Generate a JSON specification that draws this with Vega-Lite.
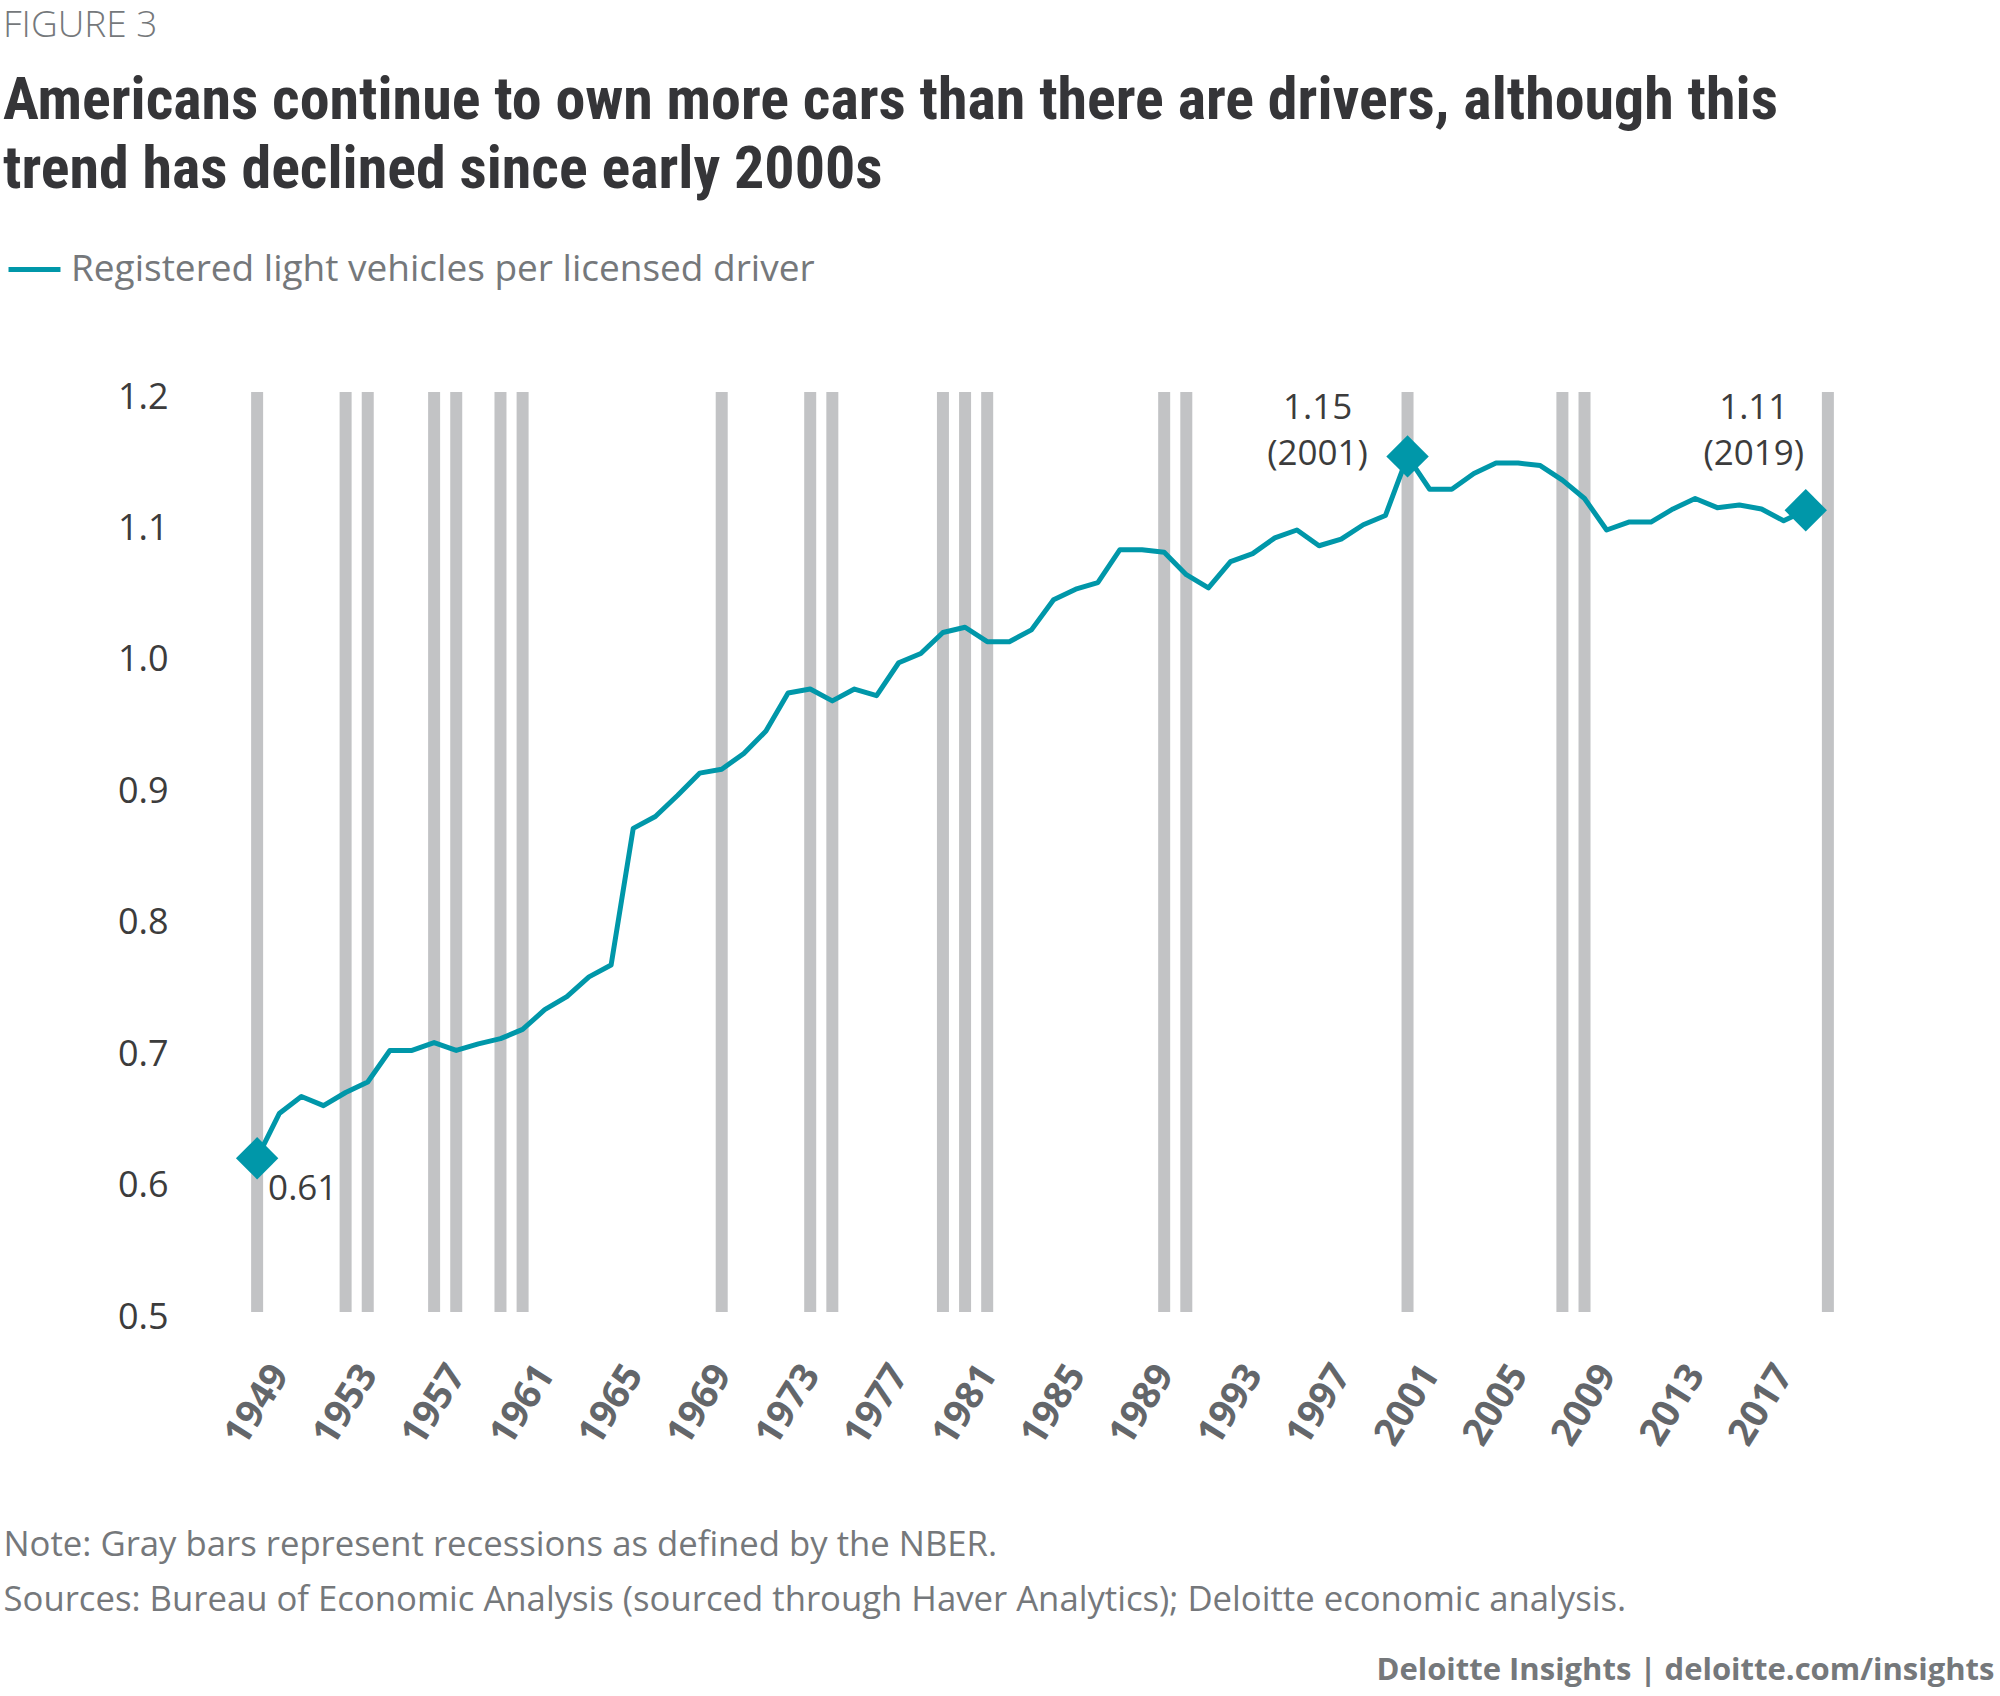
{
  "$schema": "https://vega.github.io/schema/vega-lite/v6.json",
  "width": 1615,
  "height": 920,
  "autosize": {"type": "none"},
  "padding": {"left": 235, "top": 392, "right": 150, "bottom": 384},
  "background": "white",
  "title": {
    "text": "FIGURE 3",
    "subtitle": ["Americans continue to own more cars than there are drivers, although this", "trend has declined since early 2000s"],
    "anchor": "start",
    "frame": "group",
    "dx": -232,
    "offset": 40,
    "font": "Open Sans",
    "fontSize": 37,
    "fontWeight": 300,
    "color": "#75787b",
    "subtitleFont": "'Roboto Condensed', 'Liberation Sans Narrow', 'DejaVu Sans Condensed', 'Open Sans', sans-serif",
    "subtitleFontSize": 60,
    "subtitleFontWeight": "bold",
    "subtitleColor": "#353538",
    "subtitleLineHeight": 69,
    "subtitlePadding": 27
  },
  "datasets": {
    "recessions": [
      {"year": 1949}, {"year": 1953}, {"year": 1954}, {"year": 1957}, {"year": 1958},
      {"year": 1960}, {"year": 1961}, {"year": 1970}, {"year": 1974}, {"year": 1975},
      {"year": 1980}, {"year": 1981}, {"year": 1982}, {"year": 1990}, {"year": 1991},
      {"year": 2001}, {"year": 2008}, {"year": 2009}, {"year": 2020}
    ],
    "series": [
      {"year": 1949, "value": 0.617, "series": "Registered light vehicles per licensed driver"},
      {"year": 1950, "value": 0.651, "series": "Registered light vehicles per licensed driver"},
      {"year": 1951, "value": 0.664, "series": "Registered light vehicles per licensed driver"},
      {"year": 1952, "value": 0.657, "series": "Registered light vehicles per licensed driver"},
      {"year": 1953, "value": 0.667, "series": "Registered light vehicles per licensed driver"},
      {"year": 1954, "value": 0.675, "series": "Registered light vehicles per licensed driver"},
      {"year": 1955, "value": 0.699, "series": "Registered light vehicles per licensed driver"},
      {"year": 1956, "value": 0.699, "series": "Registered light vehicles per licensed driver"},
      {"year": 1957, "value": 0.705, "series": "Registered light vehicles per licensed driver"},
      {"year": 1958, "value": 0.699, "series": "Registered light vehicles per licensed driver"},
      {"year": 1959, "value": 0.704, "series": "Registered light vehicles per licensed driver"},
      {"year": 1960, "value": 0.708, "series": "Registered light vehicles per licensed driver"},
      {"year": 1961, "value": 0.715, "series": "Registered light vehicles per licensed driver"},
      {"year": 1962, "value": 0.730, "series": "Registered light vehicles per licensed driver"},
      {"year": 1963, "value": 0.740, "series": "Registered light vehicles per licensed driver"},
      {"year": 1964, "value": 0.755, "series": "Registered light vehicles per licensed driver"},
      {"year": 1965, "value": 0.764, "series": "Registered light vehicles per licensed driver"},
      {"year": 1966, "value": 0.868, "series": "Registered light vehicles per licensed driver"},
      {"year": 1967, "value": 0.877, "series": "Registered light vehicles per licensed driver"},
      {"year": 1968, "value": 0.893, "series": "Registered light vehicles per licensed driver"},
      {"year": 1969, "value": 0.910, "series": "Registered light vehicles per licensed driver"},
      {"year": 1970, "value": 0.913, "series": "Registered light vehicles per licensed driver"},
      {"year": 1971, "value": 0.925, "series": "Registered light vehicles per licensed driver"},
      {"year": 1972, "value": 0.942, "series": "Registered light vehicles per licensed driver"},
      {"year": 1973, "value": 0.971, "series": "Registered light vehicles per licensed driver"},
      {"year": 1974, "value": 0.974, "series": "Registered light vehicles per licensed driver"},
      {"year": 1975, "value": 0.965, "series": "Registered light vehicles per licensed driver"},
      {"year": 1976, "value": 0.974, "series": "Registered light vehicles per licensed driver"},
      {"year": 1977, "value": 0.969, "series": "Registered light vehicles per licensed driver"},
      {"year": 1978, "value": 0.994, "series": "Registered light vehicles per licensed driver"},
      {"year": 1979, "value": 1.001, "series": "Registered light vehicles per licensed driver"},
      {"year": 1980, "value": 1.017, "series": "Registered light vehicles per licensed driver"},
      {"year": 1981, "value": 1.021, "series": "Registered light vehicles per licensed driver"},
      {"year": 1982, "value": 1.010, "series": "Registered light vehicles per licensed driver"},
      {"year": 1983, "value": 1.010, "series": "Registered light vehicles per licensed driver"},
      {"year": 1984, "value": 1.019, "series": "Registered light vehicles per licensed driver"},
      {"year": 1985, "value": 1.042, "series": "Registered light vehicles per licensed driver"},
      {"year": 1986, "value": 1.050, "series": "Registered light vehicles per licensed driver"},
      {"year": 1987, "value": 1.055, "series": "Registered light vehicles per licensed driver"},
      {"year": 1988, "value": 1.080, "series": "Registered light vehicles per licensed driver"},
      {"year": 1989, "value": 1.080, "series": "Registered light vehicles per licensed driver"},
      {"year": 1990, "value": 1.078, "series": "Registered light vehicles per licensed driver"},
      {"year": 1991, "value": 1.061, "series": "Registered light vehicles per licensed driver"},
      {"year": 1992, "value": 1.051, "series": "Registered light vehicles per licensed driver"},
      {"year": 1993, "value": 1.071, "series": "Registered light vehicles per licensed driver"},
      {"year": 1994, "value": 1.077, "series": "Registered light vehicles per licensed driver"},
      {"year": 1995, "value": 1.089, "series": "Registered light vehicles per licensed driver"},
      {"year": 1996, "value": 1.095, "series": "Registered light vehicles per licensed driver"},
      {"year": 1997, "value": 1.083, "series": "Registered light vehicles per licensed driver"},
      {"year": 1998, "value": 1.088, "series": "Registered light vehicles per licensed driver"},
      {"year": 1999, "value": 1.099, "series": "Registered light vehicles per licensed driver"},
      {"year": 2000, "value": 1.106, "series": "Registered light vehicles per licensed driver"},
      {"year": 2001, "value": 1.151, "series": "Registered light vehicles per licensed driver"},
      {"year": 2002, "value": 1.126, "series": "Registered light vehicles per licensed driver"},
      {"year": 2003, "value": 1.126, "series": "Registered light vehicles per licensed driver"},
      {"year": 2004, "value": 1.138, "series": "Registered light vehicles per licensed driver"},
      {"year": 2005, "value": 1.146, "series": "Registered light vehicles per licensed driver"},
      {"year": 2006, "value": 1.146, "series": "Registered light vehicles per licensed driver"},
      {"year": 2007, "value": 1.144, "series": "Registered light vehicles per licensed driver"},
      {"year": 2008, "value": 1.133, "series": "Registered light vehicles per licensed driver"},
      {"year": 2009, "value": 1.119, "series": "Registered light vehicles per licensed driver"},
      {"year": 2010, "value": 1.095, "series": "Registered light vehicles per licensed driver"},
      {"year": 2011, "value": 1.101, "series": "Registered light vehicles per licensed driver"},
      {"year": 2012, "value": 1.101, "series": "Registered light vehicles per licensed driver"},
      {"year": 2013, "value": 1.111, "series": "Registered light vehicles per licensed driver"},
      {"year": 2014, "value": 1.119, "series": "Registered light vehicles per licensed driver"},
      {"year": 2015, "value": 1.112, "series": "Registered light vehicles per licensed driver"},
      {"year": 2016, "value": 1.114, "series": "Registered light vehicles per licensed driver"},
      {"year": 2017, "value": 1.111, "series": "Registered light vehicles per licensed driver"},
      {"year": 2018, "value": 1.102, "series": "Registered light vehicles per licensed driver"},
      {"year": 2019, "value": 1.110, "series": "Registered light vehicles per licensed driver"}
    ],
    "highlights": [
      {"year": 1949, "value": 0.617, "label": "0.61"},
      {"year": 2001, "value": 1.151, "label": "1.15\n(2001)"},
      {"year": 2019, "value": 1.110, "label": "1.11\n(2019)"}
    ]
  },
  "layer": [
    {
      "data": {"name": "recessions"},
      "mark": {"type": "rule", "color": "#c2c3c5", "strokeWidth": 12},
      "encoding": {
        "x": {
          "field": "year",
          "type": "quantitative",
          "scale": {"domain": [1948, 2021], "nice": false, "zero": false},
          "axis": {
            "values": [1949, 1953, 1957, 1961, 1965, 1969, 1973, 1977, 1981, 1985, 1989, 1993, 1997, 2001, 2005, 2009, 2013, 2017],
            "format": "d",
            "title": ["Note: Gray bars represent recessions as defined by the NBER.", "Sources: Bureau of Economic Analysis (sourced through Haver Analytics); Deloitte economic analysis."],
            "titleX": -232,
            "titleY": 243,
            "titleAlign": "left",
            "titleAnchor": "start",
            "titleBaseline": "alphabetic",
            "titleFont": "Open Sans",
            "titleFontWeight": "normal",
            "titleFontSize": 34.7,
            "titleColor": "#75787b",
            "titleLineHeight": 55,
            "titleLimit": 3000
          }
        }
      }
    },
    {
      "data": {"name": "series"},
      "mark": {"type": "line", "strokeWidth": 5, "strokeJoin": "round"},
      "encoding": {
        "x": {"field": "year", "type": "quantitative"},
        "y": {
          "field": "value",
          "type": "quantitative",
          "scale": {"domain": [0.5, 1.2], "nice": false, "zero": false},
          "axis": {
            "values": [0.5, 0.6, 0.7, 0.8, 0.9, 1.0, 1.1, 1.2],
            "format": ".1f",
            "title": "Deloitte Insights | deloitte.com/insights",
            "titleAngle": 0,
            "titleX": 1759,
            "titleY": 1287,
            "titleAlign": "right",
            "titleAnchor": "start",
            "titleBaseline": "alphabetic",
            "titleFont": "Open Sans",
            "titleFontWeight": "bold",
            "titleFontSize": 31,
            "titleColor": "#75787b",
            "titleLimit": 3000
          }
        },
        "color": {
          "field": "series",
          "type": "nominal",
          "scale": {"range": ["#0097a9"]},
          "legend": {
            "orient": "none",
            "legendX": -229,
            "legendY": -151,
            "title": null,
            "symbolType": "stroke",
            "symbolStrokeWidth": 5,
            "symbolSize": 2700,
            "labelFont": "Open Sans",
            "labelFontSize": 37,
            "labelColor": "#75787b",
            "labelOffset": 8,
            "labelLimit": 0
          }
        }
      }
    },
    {
      "data": {"name": "highlights"},
      "mark": {"type": "point", "shape": "diamond", "filled": true, "size": 1800, "color": "#0097a9", "opacity": 1},
      "encoding": {
        "x": {"field": "year", "type": "quantitative"},
        "y": {"field": "value", "type": "quantitative"}
      }
    },
    {
      "data": {"name": "highlights"},
      "transform": [{"filter": "datum.year === 1949"}],
      "mark": {"type": "text", "font": "Open Sans", "fontSize": 35, "color": "#3c3c3c", "align": "left", "baseline": "middle", "dx": 11, "dy": 31},
      "encoding": {
        "x": {"field": "year", "type": "quantitative"},
        "y": {"field": "value", "type": "quantitative"},
        "text": {"field": "label"}
      }
    },
    {
      "data": {"name": "highlights"},
      "transform": [{"filter": "datum.year === 2001"}],
      "mark": {"type": "text", "font": "Open Sans", "fontSize": 35, "color": "#3c3c3c", "align": "center", "baseline": "middle", "dx": -90, "dy": -48, "lineBreak": "\n", "lineHeight": 46},
      "encoding": {
        "x": {"field": "year", "type": "quantitative"},
        "y": {"field": "value", "type": "quantitative"},
        "text": {"field": "label"}
      }
    },
    {
      "data": {"name": "highlights"},
      "transform": [{"filter": "datum.year === 2019"}],
      "mark": {"type": "text", "font": "Open Sans", "fontSize": 35, "color": "#3c3c3c", "align": "center", "baseline": "middle", "dx": -52, "dy": -102, "lineBreak": "\n", "lineHeight": 46},
      "encoding": {
        "x": {"field": "year", "type": "quantitative"},
        "y": {"field": "value", "type": "quantitative"},
        "text": {"field": "label"}
      }
    }
  ],
  "config": {
    "view": {"stroke": null},
    "axisX": {
      "grid": false,
      "domain": false,
      "ticks": false,
      "tickSize": 0,
      "labelFont": "Open Sans",
      "labelFontWeight": "bold",
      "labelFontSize": 38,
      "labelColor": "#63666a",
      "labelAngle": -58,
      "labelAlign": "center",
      "labelBaseline": "middle",
      "labelPadding": 93,
      "labelOverlap": false,
      "labelBound": false,
      "labelFlush": false
    },
    "axisY": {
      "grid": false,
      "domain": false,
      "ticks": false,
      "tickSize": 0,
      "labelFont": "Open Sans",
      "labelFontSize": 36,
      "labelColor": "#3c3c3c",
      "labelPadding": 67,
      "labelOffset": 5,
      "labelBaseline": "middle"
    }
  }
}
